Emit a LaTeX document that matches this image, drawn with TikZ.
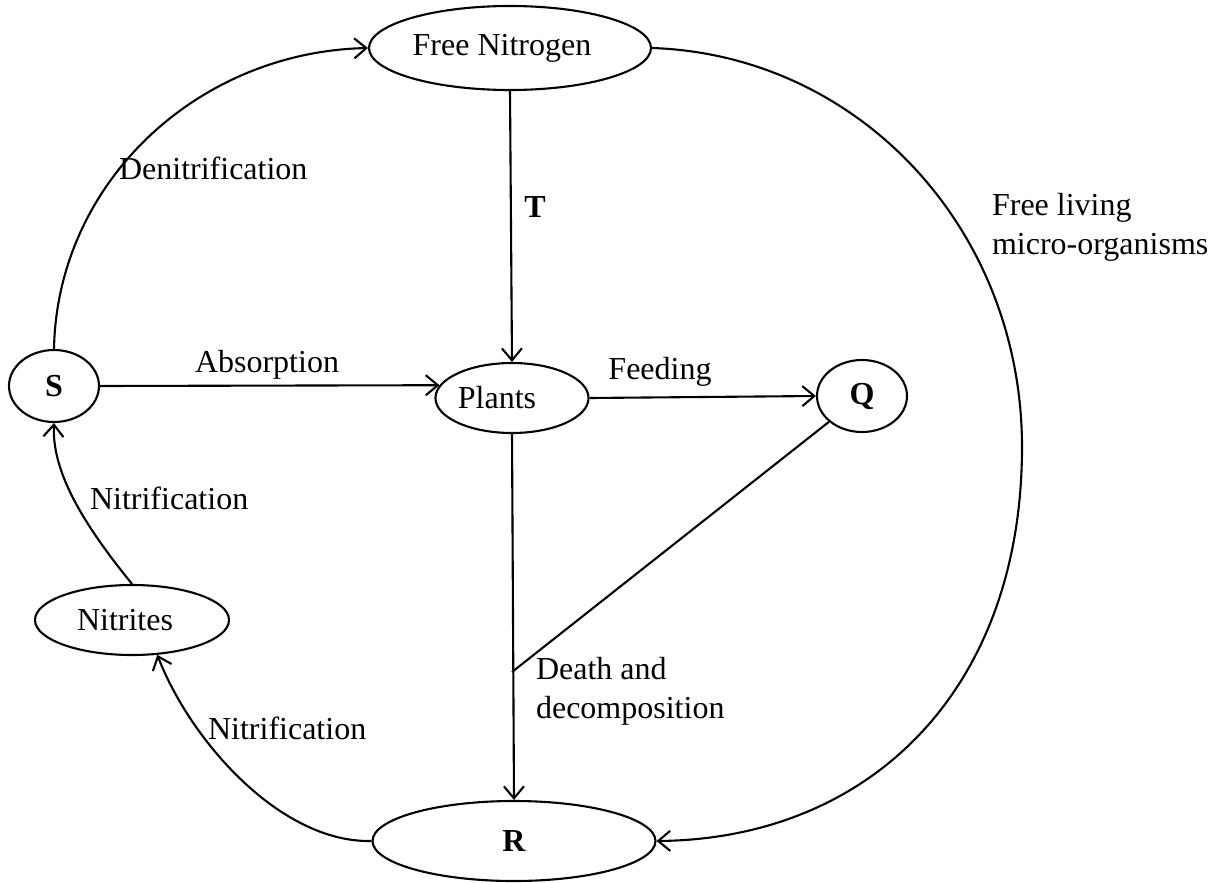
\documentclass[tikz,border=0pt]{standalone}
\usepackage{fontspec}
\setmainfont{Liberation Serif}
\usetikzlibrary{arrows.meta,shapes.geometric}
\begin{document}
\begin{tikzpicture}[x=1pt,y=-1pt, line width=2.1pt,
  every node/.style={font=\fontsize{32}{39}\selectfont},
  blob/.style={ellipse, draw, inner sep=0pt},
  arr/.style={-{Straight Barb[length=12pt,width=20pt]}},
  lbl/.style={inner sep=0pt, align=left}]
\useasboundingbox (0,0) rectangle (1215,883);
% nodes
\node[blob, minimum width=282pt, minimum height=84pt] (FN) at (510,48) {Free Nitrogen\kern16pt};
\node[blob, minimum width=90pt, minimum height=72pt] (S) at (54,386) {\textbf{S}};
\node[blob, minimum width=150pt, minimum height=70pt] (Pl) at (512,398) {Plants\kern30pt};
\node[blob, minimum width=90pt, minimum height=72pt] (Q) at (862,396) {\textbf{Q}};
\node[blob, minimum width=194pt, minimum height=70pt] (Nit) at (132,620) {Nitrites\kern14pt};
\node[blob, minimum width=283pt, minimum height=80pt] (R) at (514,841) {\textbf{R}};
\coordinate (J) at (512,672);
% connectors
\draw[arr] (S.north) .. controls (57,184) and (196,52) .. (FN.west);
\draw[arr] (FN.south) -- (Pl.north);
\draw[arr] (S.east) -- (Pl.170);
\draw[arr] (Pl.east) -- (Q.west);
\draw[arr] (Pl.south) -- (R.north);
\draw (Q.218) -- (J);
\draw[arr] (FN.east) .. controls (860,55) and (1022,230) .. (1022,447)
                    .. controls (1022,690) and (870,839) .. (R.east);
\draw[arr] (R.west) .. controls (280,843) and (190,740) .. (Nit.-54);
\draw[arr] (Nit.north) .. controls (80,520) and (52,470) .. (S.south);
% labels
\node[lbl, anchor=west] (lden) at (118,168) {Denitrification};
\node[lbl] (lT) at (535,207) {\textbf{T}};
\node[lbl] (labs) at (267,365) {Absorption};
\node[lbl] (lfeed) at (660,372) {Feeding};
\node[lbl, anchor=west] (lnit1) at (89,498) {Nitrification};
\node[lbl, anchor=west] (lnit2) at (207,728) {Nitrification};
\node[lbl, anchor=west] (ldeath) at (535,691) {Death and\\decomposition};
\node[lbl, anchor=west] (lfree) at (991,227) {Free living\\micro-organisms};
\end{tikzpicture}
\end{document}
